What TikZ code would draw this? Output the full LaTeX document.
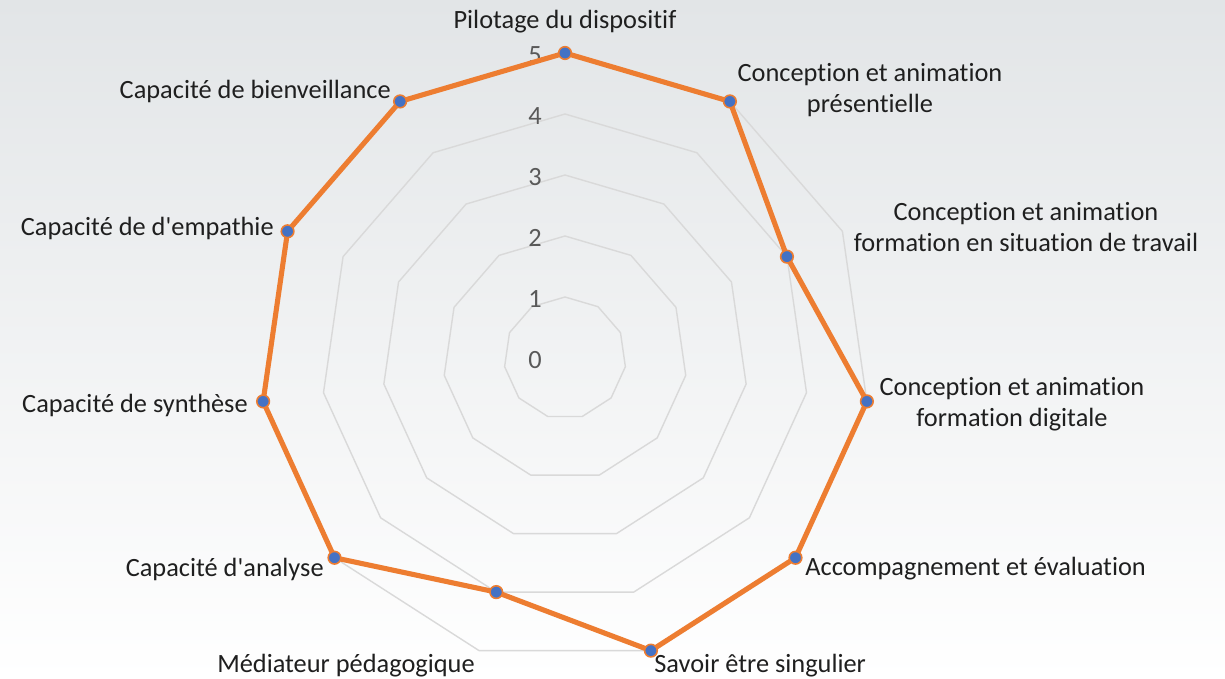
\documentclass[tikz,border=0pt]{standalone}
\usepackage{fontspec}
\setmainfont{Carlito}[Ligatures=NoCommon]
\definecolor{radarorange}{HTML}{ED7D31}
\definecolor{radarblue}{HTML}{4472C4}
\definecolor{gridgray}{HTML}{D9D9D9}
\definecolor{bgtop}{HTML}{E2E5E7}
\definecolor{bgmid}{HTML}{EDEFF0}
\newcommand{\apos}{\textquotesingle}
\tikzset{
  axislabel/.style={font=\fontsize{15}{17.6}\selectfont, text=black!88, align=center, inner sep=0pt},
  ticklabel/.style={font=\fontsize{15}{17}\selectfont, text=black!65, inner sep=0pt},
  gridline/.style={draw=gridgray, line width=0.8pt, line join=round},
  dataline/.style={draw=radarorange, line width=2.9pt, line join=round},
  datamark/.style={circle, fill=radarblue, draw=radarorange, line width=0.9pt, minimum size=7.2pt, inner sep=0pt}
}
\begin{document}
\begin{tikzpicture}[x=0.02cm, y=0.02cm]
  \shade[top color=bgtop, middle color=bgmid, bottom color=white] (0, 0) rectangle (1225, -679);
  \useasboundingbox (0, 0) rectangle (1225, -679);

  \begin{scope}[shift={(565, -358)}]
    % rings
    \foreach \r in {1,...,5}
      \draw[gridline] (90:\r*61) \foreach \k in {1,...,10} { -- (90-\k*360/11:\r*61) } -- cycle;
    % scale
    \foreach \r in {0,...,5}
      \node[ticklabel] (tick\r) at (-30, \r*61 - 2) {\r};
    % values
    \foreach \v [count=\k from 0] in {5,5,4,5,5,5,4,5,5,5,5}
      \coordinate (v\k) at (90-\k*360/11:\v*61);
    \draw[dataline] (v0) -- (v1) -- (v2) -- (v3) -- (v4) -- (v5) -- (v6) -- (v7) -- (v8) -- (v9) -- (v10) -- cycle;
    \foreach \k in {0,...,10}
      \node[datamark] (mark\k) at (v\k) {};
  \end{scope}

  \node[axislabel] (pilotage) at (565, -22) {Pilotage du dispositif};
  \node[axislabel] (presentiel) at (870, -90) {Conception et animation\\présentielle};
  \node[axislabel] (situation) at (1026, -227) {Conception et animation\\formation en situation de travail};
  \node[axislabel] (digitale) at (1012, -404) {Conception et animation\\formation digitale};
  \node[axislabel, anchor=west] (accomp) at (805, -569) {Accompagnement et évaluation};
  \node[axislabel, anchor=west] (savoir) at (654, -666) {Savoir être singulier};
  \node[axislabel, anchor=east] (mediateur) at (475, -666) {Médiateur pédagogique};
  \node[axislabel, anchor=east] (analyse) at (324, -569) {Capacité d\apos analyse};
  \node[axislabel, anchor=east] (synthese) at (248, -405) {Capacité de synthèse};
  \node[axislabel, anchor=east] (empathie) at (274, -228) {Capacité de d\apos empathie};
  \node[axislabel, anchor=east] (bienveillance) at (391, -91) {Capacité de bienveillance};
\end{tikzpicture}
\end{document}
